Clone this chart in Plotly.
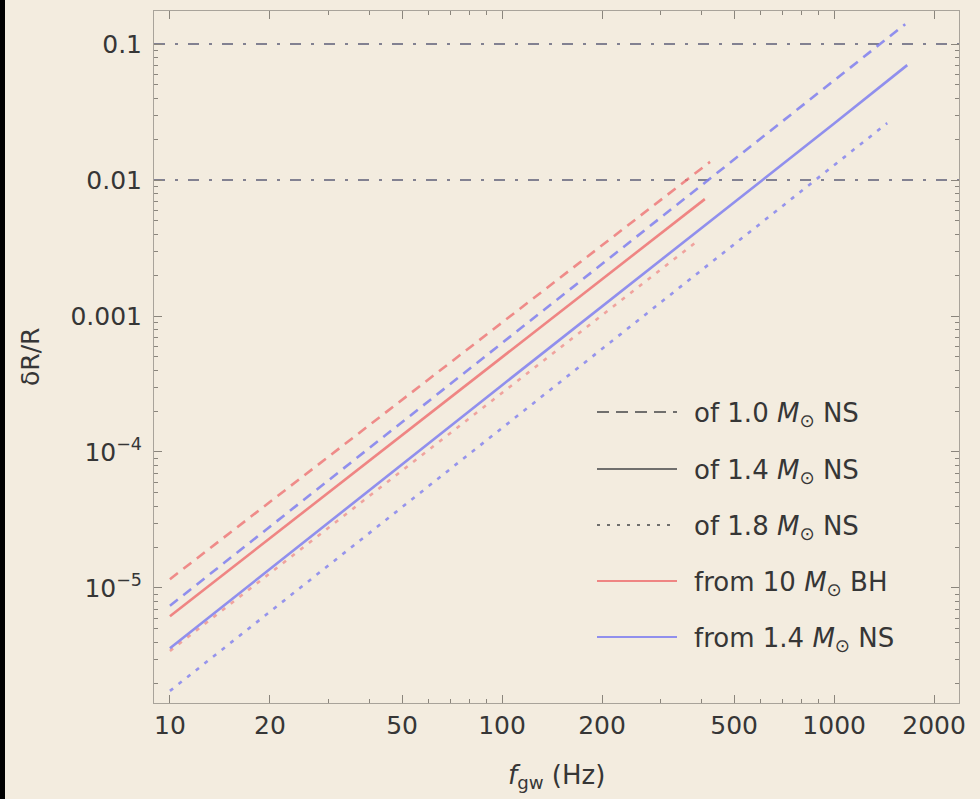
import numpy as np
import plotly.graph_objects as go

# Fractional radius change vs GW frequency (log-log)
# BH companion (10 Msun) curves
f_bh_10 = [10, 100, 423]
dr_bh_10 = [1.16e-5, 8.9e-4, 1.36e-2]
f_bh_14 = [10, 100, 408]
dr_bh_14 = [6.2e-6, 4.96e-4, 7.24e-3]
f_bh_18 = [10, 100, 381]
dr_bh_18 = [3.44e-6, 2.72e-4, 3.44e-3]

# NS companion (1.4 Msun) curves
f_ns_10 = [10, 100, 1000, 1637]
dr_ns_10 = [7.4e-6, 6.3e-4, 5.43e-2, 1.40e-1]
f_ns_14 = [10, 100, 1000, 1660]
dr_ns_14 = [3.6e-6, 3.1e-4, 2.6e-2, 7.0e-2]
f_ns_18 = [10, 100, 1000, 1445]
dr_ns_18 = [1.75e-6, 1.5e-4, 1.3e-2, 2.62e-2]

ref_levels = [0.1, 0.01]

x_ticks = [10, 20, 50, 100, 200, 500, 1000, 2000]
x_ticktext = ["10", "20", "50", "100", "200", "500", "1000", "2000"]
y_ticks = [1e-5, 1e-4, 1e-3, 1e-2, 1e-1]
y_ticktext = ["10<sup>\u22125</sup>", "10<sup>\u22124</sup>", "0.001", "0.01", "0.1"]

legend_labels = [
    "of 1.0 <i>M</i><sub>\u2299</sub> NS",
    "of 1.4 <i>M</i><sub>\u2299</sub> NS",
    "of 1.8 <i>M</i><sub>\u2299</sub> NS",
    "from 10 <i>M</i><sub>\u2299</sub> BH",
    "from 1.4 <i>M</i><sub>\u2299</sub> NS",
]

RED = "#ef7474"
BLUE = "#7f7ff0"
GREY = "#5a5a5a"
REF = "#5e5e78"
BG = "#f3ecdf"
TXT = "#363636"
FONT = "DejaVu Sans"
DASH = "10px,7px"
DOT = "4px,7px"

x_range = [0.952, 3.376]
y_range = [-5.846, -0.757]

fig = go.Figure()

# horizontal reference levels
for lvl in ref_levels:
    fig.add_trace(go.Scatter(
        x=[10 ** x_range[0], 10 ** x_range[1]], y=[lvl, lvl], mode="lines",
        line=dict(color=REF, width=1.6, dash="11px,10px,3px,10px"),
        showlegend=False, hoverinfo="skip"))

series = [
    (f_bh_10, dr_bh_10, RED, DASH, 0.8),
    (f_bh_14, dr_bh_14, RED, "solid", 0.85),
    (f_bh_18, dr_bh_18, RED, DOT, 0.6),
    (f_ns_10, dr_ns_10, BLUE, DASH, 0.85),
    (f_ns_14, dr_ns_14, BLUE, "solid", 0.85),
    (f_ns_18, dr_ns_18, BLUE, DOT, 0.8),
]
for fx, dy, col, dash, op in series:
    fig.add_trace(go.Scatter(
        x=fx, y=dy, mode="lines", opacity=op,
        line=dict(color=col, width=2.6, dash=dash),
        showlegend=False))

x_minor = [m * d for d in (1, 10, 100, 1000) for m in range(2, 10)
           if m * d not in x_ticks and 9 <= m * d <= 2400]
y_minor = [m * 10.0 ** e for e in range(-6, 0) for m in range(2, 10)]

axis_common = dict(
    showline=True, linecolor="#a8a39a", linewidth=1, mirror="allticks",
    ticks="inside", ticklen=8, tickwidth=1, tickcolor="#8a857c",
    showgrid=False, zeroline=False,
    tickfont=dict(family=FONT, size=25, color=TXT),
)

fig.update_xaxes(type="log", range=x_range, tickmode="array",
                 tickvals=x_ticks, ticktext=x_ticktext,
                 minor=dict(tickmode="array", tickvals=x_minor, ticks="inside",
                            ticklen=4, tickcolor="#8a857c", showgrid=False),
                 **axis_common)
fig.update_yaxes(type="log", range=y_range, tickmode="array",
                 tickvals=y_ticks, ticktext=y_ticktext, ticklabelstandoff=6,
                 minor=dict(tickmode="array", tickvals=y_minor, ticks="inside",
                            ticklen=4, tickcolor="#8a857c", showgrid=False),
                 **axis_common)

W, H = 980, 799
L, R, T, B = 154, 21, 11, 96
pw, ph = W - L - R, H - T - B


def px_x(p):
    return (p - L) / pw


def px_y(p):
    return (H - B - p) / ph


shapes = []
annotations = []

# legend built from line styles and labels
legend_styles = [(GREY, "12px,7px"), (GREY, "solid"), (GREY, "3px,7px"), (RED, "solid"), (BLUE, "solid")]
row_y = [412, 469, 525, 581, 637]
for (col, dash), lab, yy in zip(legend_styles, legend_labels, row_y):
    shapes.append(dict(type="line", xref="paper", yref="paper",
                       x0=px_x(597), x1=px_x(677), y0=px_y(yy), y1=px_y(yy),
                       line=dict(color=col, width=2, dash=dash), opacity=0.85))
    annotations.append(dict(xref="paper", yref="paper", x=px_x(692), y=px_y(yy + 2),
                            xanchor="left", yanchor="middle", showarrow=False,
                            text=lab,
                            font=dict(family=FONT, size=26, color=TXT)))

# axis titles
annotations.append(dict(xref="paper", yref="paper", x=px_x(30), y=0.5,
                        xanchor="center", yanchor="middle", textangle=-90,
                        showarrow=False, text="\u03b4R/R",
                        font=dict(family=FONT, size=25, color=TXT)))
annotations.append(dict(xref="paper", yref="paper", x=0.5, y=px_y(776),
                        xanchor="center", yanchor="middle", showarrow=False,
                        text="<i>f</i><sub>gw</sub> (Hz)",
                        font=dict(family=FONT, size=26, color=TXT)))

# dark strip along the left edge
shapes.append(dict(type="rect", xref="paper", yref="paper",
                   x0=px_x(0), x1=px_x(5), y0=px_y(H), y1=px_y(0),
                   fillcolor="#000000", line=dict(width=0), layer="above"))

fig.update_layout(
    width=W, height=H,
    margin=dict(l=L, r=R, t=T, b=B, pad=0),
    paper_bgcolor=BG, plot_bgcolor=BG,
    showlegend=False,
    shapes=shapes, annotations=annotations,
)

fig.write_html("out.html")
